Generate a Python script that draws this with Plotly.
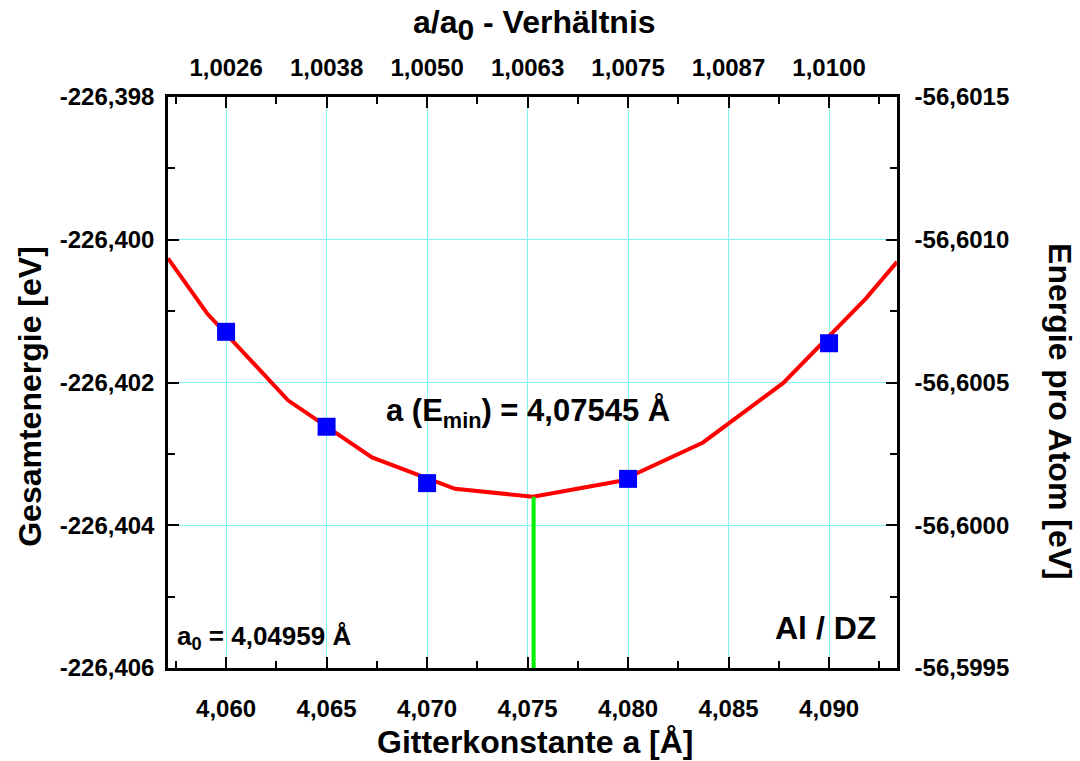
import plotly.graph_objects as go

# ---- data ----
a_points = [4.060, 4.065, 4.070, 4.080, 4.090]
e_points = [-226.40129, -226.40262, -226.40341, -226.40335, -226.40145]

fit_a = [4.05711, 4.05905, 4.06308, 4.06726, 4.07139, 4.07527, 4.07960, 4.08373, 4.08771, 4.09184, 4.09338]
fit_e = [-226.40026, -226.40103, -226.40225, -226.40305, -226.40349, -226.40360, -226.40338, -226.40284, -226.40201, -226.40082, -226.40031]

a_min_line = 4.0753
e_min_line = [-226.406, -226.40360]

x_ticks = [4.060, 4.065, 4.070, 4.075, 4.080, 4.085, 4.090]
x_tick_labels = ["4,060", "4,065", "4,070", "4,075", "4,080", "4,085", "4,090"]
ratio_labels = ["1,0026", "1,0038", "1,0050", "1,0063", "1,0075", "1,0087", "1,0100"]
x_minor = [4.0575, 4.0625, 4.0675, 4.0725, 4.0775, 4.0825, 4.0875, 4.0925]

y_ticks = [-226.398, -226.400, -226.402, -226.404, -226.406]
y_tick_labels = ["-226,398", "-226,400", "-226,402", "-226,404", "-226,406"]
y_minor = [-226.399, -226.401, -226.403, -226.405]

y2_ticks = [-56.6015, -56.6010, -56.6005, -56.6000, -56.5995]
y2_tick_labels = ["-56,6015", "-56,6010", "-56,6005", "-56,6000", "-56,5995"]
y2_minor = [-56.60125, -56.60075, -56.60025, -56.59975]

x_range = [4.05711, 4.09338]
y_range = [-226.406, -226.398]
y2_range = [-56.5995, -56.6015]

FONT = "Liberation Sans"
axis_font = dict(family=FONT, size=24, color="black", weight="bold")
title_font = dict(family=FONT, size=32, color="black", weight="bold")
GRID = "#7ff5f5"

fig = go.Figure()

fig.add_trace(go.Scatter(x=fit_a, y=fit_e, mode="lines",
                         line=dict(color="#ff0000", width=4), showlegend=False))
fig.add_trace(go.Scatter(x=[a_min_line, a_min_line], y=e_min_line, mode="lines",
                         line=dict(color="#00ee00", width=4), showlegend=False))
fig.add_trace(go.Scatter(x=a_points, y=e_points, mode="markers",
                         marker=dict(symbol="square", size=18, color="#0000ff"),
                         showlegend=False))
# invisible trace to activate secondary axes
fig.add_trace(go.Scatter(x=[x_range[0]], y=[y2_range[0]], xaxis="x2", yaxis="y2",
                         mode="markers", marker=dict(opacity=0), showlegend=False,
                         hoverinfo="skip"))

common = dict(showline=True, linecolor="black", linewidth=2.5, ticks="inside",
              ticklen=11, tickwidth=2, tickcolor="black", zeroline=False,
              tickfont=axis_font)
minor_style = dict(ticks="inside", ticklen=7, tickwidth=2, tickcolor="black")

fig.update_layout(
    width=1080, height=761,
    margin=dict(l=168, r=183, t=97, b=93),
    paper_bgcolor="white", plot_bgcolor="white",
    font=dict(family=FONT, color="black", weight="bold"),
    xaxis=dict(range=x_range, tickvals=x_ticks, ticktext=x_tick_labels,
               showgrid=True, gridcolor=GRID, gridwidth=1,
               minor=dict(tickvals=x_minor, **minor_style),
               ticklabelstandoff=17, **common),
    xaxis2=dict(range=x_range, overlaying="x", side="top", tickvals=x_ticks,
                ticktext=ratio_labels, showgrid=False,
                minor=dict(tickvals=x_minor, **minor_style),
                ticklabelstandoff=9, **common),
    yaxis=dict(range=y_range, tickvals=y_ticks, ticktext=y_tick_labels,
               showgrid=True, gridcolor=GRID, gridwidth=1,
               minor=dict(tickvals=y_minor, **minor_style),
               ticklabelstandoff=6, **common),
    yaxis2=dict(range=y2_range, overlaying="y", side="right", tickvals=y2_ticks,
                ticktext=y2_tick_labels, showgrid=False,
                minor=dict(tickvals=y2_minor, **minor_style),
                ticklabelstandoff=10, **common),
    annotations=[
        dict(text="Gitterkonstante a [Å]", xref="paper", yref="paper", x=0.504, y=0,
             yshift=-74, xanchor="center", yanchor="middle", showarrow=False, font=title_font),
        dict(text="Gesamtenergie [eV]", xref="paper", yref="paper", x=0, y=0.475,
             xshift=-138, textangle=-90, xanchor="center", yanchor="middle",
             showarrow=False, font=title_font),
        dict(text="Energie pro Atom [eV]", xref="paper", yref="paper", x=1, y=0.45,
             xshift=163, textangle=90, xanchor="center", yanchor="middle",
             showarrow=False, font=title_font),
        dict(text="a/a<sub><span style=\"font-size:30px\">0</span></sub> - Verhältnis",
             xref="paper", yref="paper", x=0.503, y=1,
             yshift=72, xanchor="center", yanchor="middle", showarrow=False, font=title_font),
        dict(text="a (E<sub>min</sub>) = 4,07545 Å", x=4.07502, y=-226.40243,
             xanchor="center", yanchor="middle", showarrow=False,
             font=dict(family=FONT, size=31, color="black", weight="bold")),
        dict(text="a<sub>0</sub> = 4,04959 Å", x=4.05746, y=-226.40557,
             xanchor="left", yanchor="middle", showarrow=False,
             font=dict(family=FONT, size=26, color="black", weight="bold")),
        dict(text="Al / DZ", x=4.09244, y=-226.40544,
             xanchor="right", yanchor="middle", showarrow=False,
             font=dict(family=FONT, size=32, color="black", weight="bold")),
    ],
)

fig.write_html("out.html")
